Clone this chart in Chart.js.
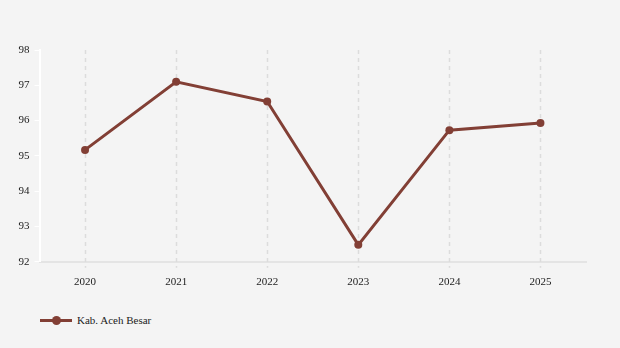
<!DOCTYPE html>
<html>
<head>
<meta charset="utf-8">
<script src="https://cdn.jsdelivr.net/npm/chart.js@4.4.1/dist/chart.umd.min.js"></script>
<style>
  html, body { margin: 0; padding: 0; background: #f4f4f4; }
  #wrap { width: 620px; height: 348px; position: relative; background: #f4f4f4; }
  #box { width: 620px; height: 303px; position: absolute; left: 0; top: 0; }
  #legend { position: absolute; left: 40px; top: 314px; font-family: "Liberation Serif", serif; font-size: 11px; color: #222; display: flex; align-items: center; }
  #legend .mark { position: relative; width: 32px; height: 10px; margin-right: 5px; }
  #legend .mark .ln { position: absolute; left: 0; right: 0; top: 4px; height: 3px; background: #823f35; }
  #legend .mark .dot { position: absolute; left: 12px; top: 1px; width: 9px; height: 9px; border-radius: 50%; background: #823f35; }
</style>
</head>
<body>
<div id="wrap">
  <div id="box"><canvas id="myChart"></canvas></div>
  <div id="legend"><span class="mark"><span class="ln"></span><span class="dot"></span></span><span id="legend-text"></span></div>
</div>
<script>
var years = ['2020', '2021', '2022', '2023', '2024', '2025'];
var seriesName = 'Kab. Aceh Besar';
var values = [95.17, 97.10, 96.54, 92.48, 95.73, 95.93];
var yTicks = [92, 93, 94, 95, 96, 97, 98];

var lineColor = '#823f35';
document.getElementById('legend-text').textContent = seriesName;

var ctx = document.getElementById('myChart').getContext('2d');
var chart = new Chart(ctx, {
    type: 'line',
    data: {
        labels: years,
        datasets: [{
            label: seriesName,
            data: values,
            borderColor: lineColor,
            backgroundColor: lineColor,
            borderWidth: 3,
            pointRadius: 4,
            pointBackgroundColor: lineColor,
            pointBorderWidth: 0,
            tension: 0
        }]
    },
    options: {
        responsive: true,
        maintainAspectRatio: false,
        animation: false,
        layout: { padding: { left: 13.5, right: 34, top: 50, bottom: 6 } },
        plugins: {
            legend: { display: false },
            tooltip: { enabled: false }
        },
        scales: {
            x: {
                offset: true,
                grid: {
                    color: 'rgba(0,0,0,0)',
                    tickLength: 6,
                    offset: false
                },
                border: { color: '#e4e4e4', width: 2 },
                ticks: {
                    color: '#222',
                    padding: 8,
                    font: { family: 'Liberation Serif', size: 11 }
                }
            },
            y: {
                min: 92,
                max: 98,
                afterBuildTicks: function (axis) {
                    axis.ticks = yTicks.map(function (v) { return { value: v }; });
                },
                grid: {
                    drawOnChartArea: false,
                    color: '#ffffff',
                    tickLength: 5
                },
                border: { color: '#ffffff', width: 2 },
                ticks: {
                    color: '#222',
                    padding: 5,
                    font: { family: 'Liberation Serif', size: 11 }
                }
            }
        }
    },
    plugins: [{
        // dashed vertical grid lines at each year
        id: 'dashedGrid',
        beforeDatasetsDraw: function (c) {
            var xs = c.scales.x, area = c.chartArea, g = c.ctx;
            g.save();
            g.strokeStyle = '#dcdcdc';
            g.lineWidth = 1.5;
            g.setLineDash([4, 4]);
            years.forEach(function (y, i) {
                var x = Math.round(xs.getPixelForValue(i)) + 0.5;
                g.beginPath();
                g.moveTo(x, area.top);
                g.lineTo(x, area.bottom + 6);
                g.stroke();
            });
            g.restore();
        }
    }]
});
</script>
</body>
</html>
